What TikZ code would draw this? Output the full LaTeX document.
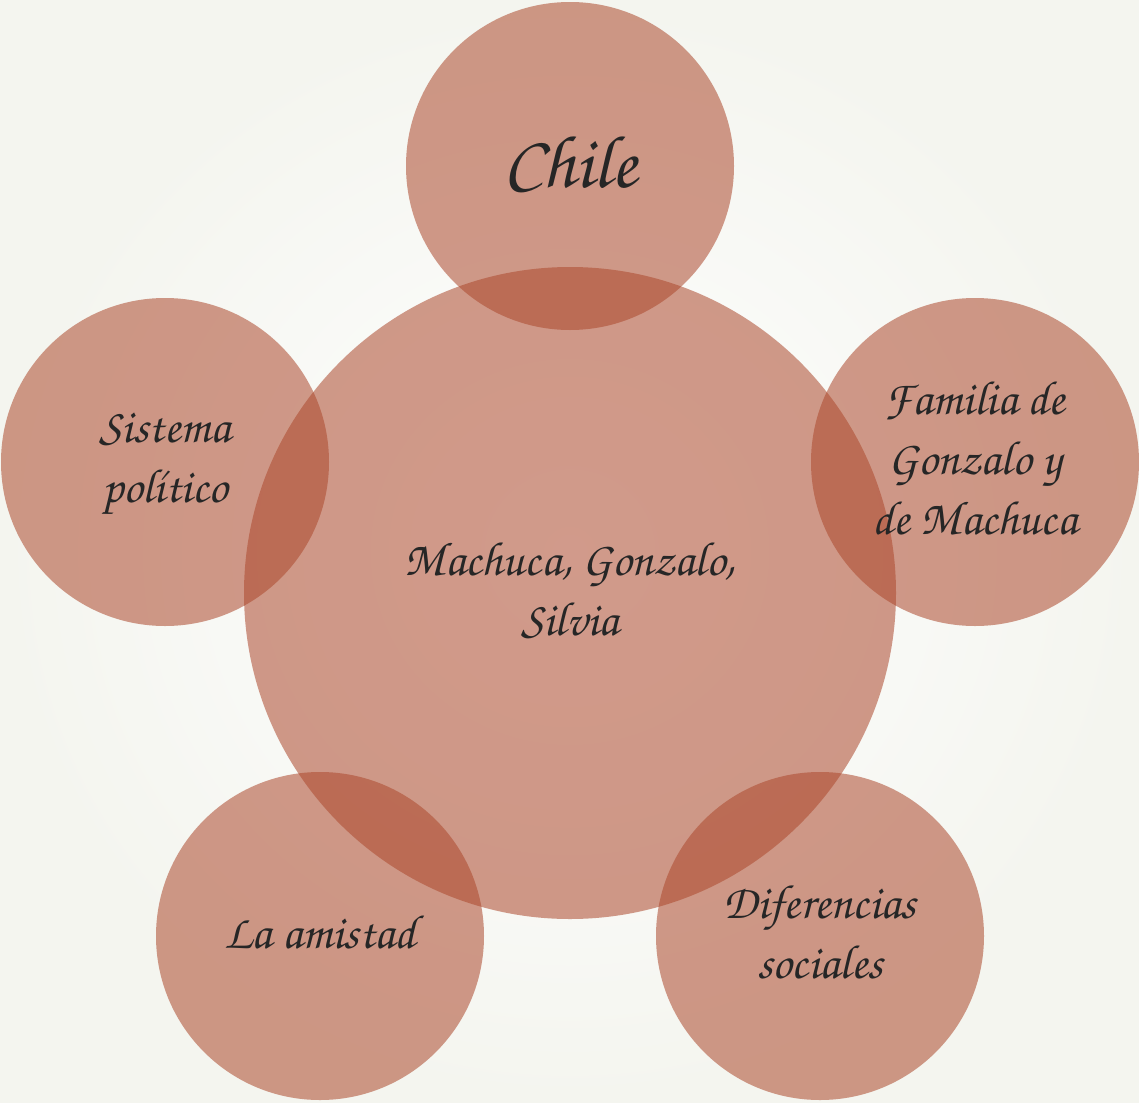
\documentclass[tikz,border=0pt]{standalone}
\usepackage[T1]{fontenc}
\definecolor{bubblefill}{RGB}{172,72,44}
\definecolor{bgouter}{RGB}{244,245,239}
\begin{document}
\begin{tikzpicture}[x=0.75pt, y=-0.75pt,
            every node/.style={align=center, text=black!85, font=\fontfamily{pzc}\fontsize{36}{45}\selectfont},
            bubble/.style={circle, inner sep=0pt, fill=bubblefill, fill opacity=0.55, text opacity=1, text depth=7pt},
            big/.style={bubble, minimum size=489pt},
            small/.style={bubble, minimum size=246pt}]
        \useasboundingbox (0,0) rectangle (1139,1103);
        \shade[inner color=white, outer color=bgouter] (0,0) rectangle (1139,1103);
        \node [big] (center) at (570,593) {Machuca, Gonzalo,\\Silvia};
        \node [small, text depth=8pt, font=\fontfamily{pzc}\fontsize{56}{60}\selectfont] (chile) at (570,166) {Chile};
        \node [small] (familia) at (975,462) {Familia de\\Gonzalo y\\de Machuca};
        \node [small] (sistema) at (165,462) {Sistema\\político};
        \node [small] (amistad) at (320,936) {La amistad};
        \node [small] (diferencias) at (820,936) {Diferencias\\sociales};
    \end{tikzpicture}
\end{document}
